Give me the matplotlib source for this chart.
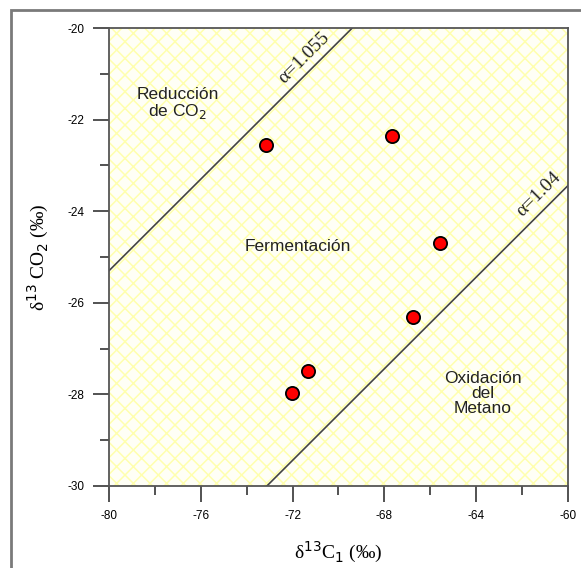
import matplotlib.pyplot as plt
from matplotlib.patches import Rectangle

# Datos isotópicos de las muestras
d13C1 = [-73.16, -67.67, -65.58, -66.77, -71.34, -72.04]
d13CO2 = [-22.55, -22.36, -24.69, -26.32, -27.50, -27.98]

# Líneas de fraccionamiento (extremos)
linea_1055_x = [-80.0, -69.4]
linea_1055_y = [-25.3, -20.0]
linea_104_x = [-73.12, -60.0]
linea_104_y = [-30.0, -23.44]

xticks = [-80, -76, -72, -68, -64, -60]
yticks = [-30, -28, -26, -24, -22, -20]

plt.rcParams['font.family'] = ['Liberation Sans', 'DejaVu Sans']
plt.rcParams['axes.unicode_minus'] = False
plt.rcParams['hatch.linewidth'] = 1.1

serif = ['Liberation Serif', 'DejaVu Serif']

fig = plt.figure(figsize=(5.81, 5.68), dpi=100)
ax = fig.add_axes([0.1876, 0.1444, 0.79, 0.8063])

# Marco exterior
fig.patches.append(Rectangle((11 / 581, -0.1), 1.2, 1 - 10 / 568 + 0.1,
                             transform=fig.transFigure, fill=False,
                             edgecolor='#7a7a7a', lw=2, zorder=0))

# Fondo con trama amarilla
ax.axvspan(-80, -60, facecolor='#fffff6', edgecolor='#ffffae', hatch='xx',
           lw=0, zorder=0)

ax.plot(linea_1055_x, linea_1055_y, color='#444444', lw=1.2, zorder=2)
ax.plot(linea_104_x, linea_104_y, color='#444444', lw=1.2, zorder=2)

ax.plot(d13C1, d13CO2, 'o', color='red', markersize=9.5,
        markeredgecolor='black', markeredgewidth=1.3, zorder=3)

ax.set_xlim(-80, -60)
ax.set_ylim(-30, -20)
ax.set_xticks(xticks)
ax.set_yticks(yticks)
ax.set_xticks([-78, -74, -70, -66, -62], minor=True)
ax.set_yticks([-29, -27, -25, -23, -21], minor=True)
ax.tick_params(which='major', direction='out', length=11.5, width=1.3,
               color='#444444', labelsize=8.5, pad=6)
ax.tick_params(which='minor', direction='out', length=6.5, width=1.3,
               color='#444444')
for s in ax.spines.values():
    s.set_color('#555555')
    s.set_linewidth(1.3)

# Etiquetas de regiones
ax.text(-77.0, -21.66, 'Reducción\nde CO$_2$', ha='center', va='center',
        fontsize=12.5, linespacing=1.0, color='#222222')
ax.text(-71.76, -24.78, 'Fermentación', ha='center', va='center',
        fontsize=12.5, color='#222222')
ax.text(-63.7, -27.97, 'Oxidación\ndel\nMetano', ha='center', va='center',
        fontsize=12.5, linespacing=1.0, color='#222222')

ax.text(-71.5, -20.65, 'α=1.055', rotation=45, ha='center', va='center',
        fontsize=14, family=serif, color='#222222')
ax.text(-61.3, -23.62, 'α=1.04', rotation=45, ha='center', va='center',
        fontsize=14, family=serif, color='#222222')

ax.set_xlabel('δ$^{13}$C$_1$ (‰)', fontsize=14, family=serif, labelpad=13)
ax.set_ylabel('δ$^{13}$ CO$_2$ (‰)', fontsize=14, family=serif, labelpad=12)

fig.savefig('out.png', dpi=100)
